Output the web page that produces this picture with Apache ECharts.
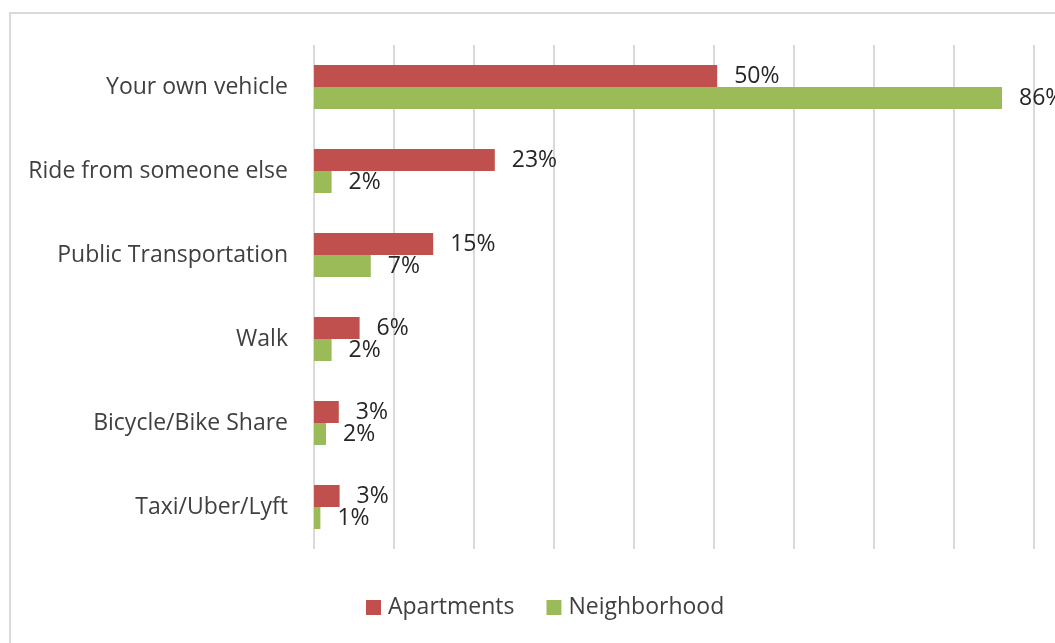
<!DOCTYPE html>
<html>
<head>
<meta charset="utf-8">
<script src="https://cdn.jsdelivr.net/npm/echarts@6/dist/echarts.min.js"></script>
<style>
  html, body { margin: 0; padding: 0; background: #fff; }
  #bar_chart { width: 1055px; height: 643px; }
</style>
</head>
<body>
<div id="bar_chart"></div>
<script>
var categories = [
  "Your own vehicle",
  "Ride from someone else",
  "Public Transportation",
  "Walk",
  "Bicycle/Bike Share",
  "Taxi/Uber/Lyft",
];
var apartments = [50.4, 22.6, 14.9, 5.7, 3.1, 3.2];
var neighborhood = [86.0, 2.2, 7.1, 2.2, 1.5, 0.8];
var seriesNames = ["Apartments", "Neighborhood"];

var chartDom = document.getElementById("bar_chart");
var myChart = echarts.init(chartDom);
var option;

var fontFamily = "Open Sans";

function pctLabel(p) {
  return Math.round(p.value) + "%";
}

option = {
  animation: false,
  textStyle: { fontFamily: fontFamily },
  graphic: [
    {
      type: "rect",
      shape: { x: 10, y: 13, width: 1200, height: 800 },
      style: { fill: "none", stroke: "#d9d9d9", lineWidth: 2 },
      silent: true,
    },
  ],
  legend: {
    left: 366,
    top: 596,
    padding: 0,
    itemWidth: 15,
    itemHeight: 15,
    itemGap: 32,
    icon: "rect",
    textStyle: { fontSize: 23, color: "#404040", fontFamily: fontFamily, padding: [0, 0, 0, 2] },
    data: seriesNames,
  },
  grid: {
    left: 314,
    top: 45,
    width: 720,
    height: 504,
  },
  xAxis: {
    type: "value",
    min: 0,
    max: 90,
    interval: 10,
    axisLabel: { show: false },
    axisLine: { show: false },
    axisTick: { show: false },
    splitLine: { lineStyle: { color: "#d9d9d9", width: 2 } },
  },
  yAxis: {
    type: "category",
    inverse: true,
    data: categories,
    axisLine: { show: false },
    axisTick: { show: false },
    axisLabel: {
      margin: 26,
      fontSize: 23,
      color: "#404040",
      fontFamily: fontFamily,
    },
  },
  series: [
    {
      name: seriesNames[0],
      type: "bar",
      data: apartments,
      barGap: "0%",
      barCategoryGap: "47.6%",
      itemStyle: { color: "#c0504d" },
      label: {
        show: true,
        position: "right",
        distance: 17,
        fontSize: 23,
        color: "#262626",
        fontFamily: fontFamily,
        formatter: pctLabel,
      },
    },
    {
      name: seriesNames[1],
      type: "bar",
      data: neighborhood,
      barGap: "0%",
      barCategoryGap: "47.6%",
      itemStyle: { color: "#9bbb59" },
      label: {
        show: true,
        position: "right",
        distance: 17,
        fontSize: 23,
        color: "#262626",
        fontFamily: fontFamily,
        formatter: pctLabel,
      },
    },
  ],
};

option && myChart.setOption(option);
</script>
</body>
</html>
